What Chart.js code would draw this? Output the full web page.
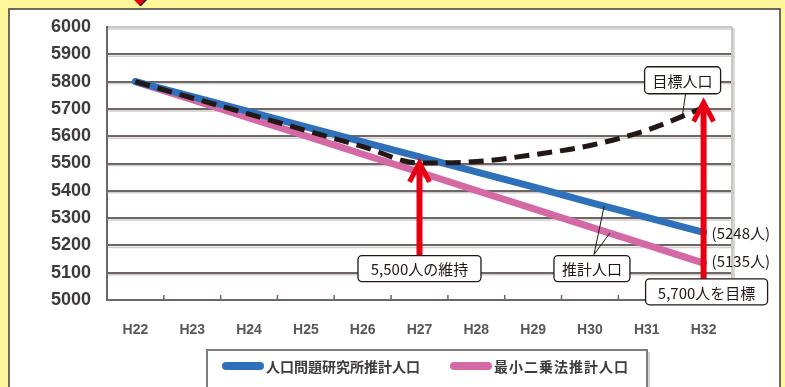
<!DOCTYPE html>
<html>
<head>
<meta charset="utf-8">
<script src="https://cdn.jsdelivr.net/npm/chart.js@4.4.0/dist/chart.umd.min.js"></script>
<style>
html, body { margin: 0; padding: 0; background: #fff799; }
canvas { display: block; }
</style>
</head>
<body>
<canvas id="pop_chart" width="785" height="387"></canvas>
<script>
// data
var years = ['H22', 'H23', 'H24', 'H25', 'H26', 'H27', 'H28', 'H29', 'H30', 'H31', 'H32'];
var ipss_pop = [5800, 5745, 5690, 5634, 5579, 5524, 5469, 5414, 5358, 5303, 5248];
var lsq_pop = [5800, 5734, 5667, 5601, 5534, 5468, 5401, 5335, 5268, 5202, 5135];
var target_pop = [5800, 5740, 5681, 5621, 5562, 5502, 5507, 5532, 5566, 5622, 5705];
var y_ticks = [5000, 5100, 5200, 5300, 5400, 5500, 5600, 5700, 5800, 5900, 6000];
var series_names = ['人口問題研究所推計人口', '最小二乗法推計人口', '目標人口'];
var end_labels = ['(5248人)', '(5135人)'];
var note_keep = '5,500人の維持';
var note_goal = '5,700人を目標';
var note_est = '推計人口';

var blue = 'rgb(46, 112, 185)';
var pink = 'rgb(213, 105, 165)';
var red = 'rgb(230, 0, 18)';
var ink = '#231815';
var jp_font = '"Noto Sans CJK JP", "Noto Sans", sans-serif';

function noteBox(ctx, cx, cy, w, h, text) {
    var x = cx - w / 2, y = cy - h / 2;
    ctx.save();
    ctx.beginPath();
    ctx.roundRect(x, y, w, h, 4);
    ctx.fillStyle = '#fff';
    ctx.fill();
    ctx.lineWidth = 1.3;
    ctx.strokeStyle = ink;
    ctx.stroke();
    ctx.fillStyle = ink;
    ctx.font = '15px ' + jp_font;
    ctx.textAlign = 'center';
    ctx.textBaseline = 'middle';
    ctx.fillText(text, cx, cy + 1);
    ctx.restore();
}

function redArrow(ctx, x, tipY, baseY) {
    ctx.save();
    ctx.strokeStyle = red;
    ctx.lineWidth = 6;
    ctx.lineJoin = 'miter';
    ctx.beginPath();
    ctx.moveTo(x, tipY + 2);
    ctx.lineTo(x, baseY);
    ctx.stroke();
    ctx.lineWidth = 5;
    ctx.beginPath();
    ctx.moveTo(x - 10, tipY + 19);
    ctx.lineTo(x, tipY);
    ctx.lineTo(x + 10, tipY + 19);
    ctx.stroke();
    ctx.restore();
}

var decorPlugin = {
    id: 'decor',
    beforeDraw: function (chart) {
        var ctx = chart.ctx;
        ctx.save();
        ctx.fillStyle = '#fff799';
        ctx.fillRect(0, 0, chart.width, chart.height);
        ctx.fillStyle = '#fff';
        ctx.fillRect(9, 9, 771, 400);
        ctx.strokeStyle = '#3e3a39';
        ctx.lineWidth = 1.5;
        ctx.strokeRect(9, 9, 771, 400);
        // red pointer coming from above
        ctx.beginPath();
        ctx.moveTo(131, -3);
        ctx.lineTo(149, -3);
        ctx.lineTo(140, 6);
        ctx.closePath();
        ctx.fillStyle = red;
        ctx.fill();
        ctx.strokeStyle = ink;
        ctx.lineWidth = 1.5;
        ctx.beginPath();
        ctx.moveTo(140, 6);
        ctx.lineTo(149, -3);
        ctx.stroke();
        ctx.restore();
    },
    beforeDatasetsDraw: function (chart) {
        var ctx = chart.ctx, a = chart.chartArea, ys = chart.scales.y, xs = chart.scales.x;
        ctx.save();
        // grid shadows
        ctx.strokeStyle = 'rgba(150, 145, 142, 0.45)';
        ctx.lineWidth = 1.5;
        y_ticks.forEach(function (v) {
            if (v === 5000) return;
            var py = ys.getPixelForValue(v) + 2;
            ctx.beginPath();
            ctx.moveTo(a.left, py);
            ctx.lineTo(a.right + 2, py);
            ctx.stroke();
        });
        // right edge of plot
        ctx.strokeStyle = '#c9c6c4';
        ctx.lineWidth = 2;
        ctx.beginPath();
        ctx.moveTo(a.right, a.top);
        ctx.lineTo(a.right, a.bottom);
        ctx.stroke();
        ctx.strokeStyle = 'rgba(150, 145, 142, 0.35)';
        ctx.beginPath();
        ctx.moveTo(a.right + 2, a.top + 2);
        ctx.lineTo(a.right + 2, a.bottom);
        ctx.stroke();
        // category tick marks on bottom axis
        var half = (xs.getPixelForValue(1) - xs.getPixelForValue(0)) / 2;
        ctx.strokeStyle = '#6e6663';
        ctx.lineWidth = 1.5;
        for (var i = 0; i < years.length - 1; i++) {
            var px = xs.getPixelForValue(i) + half;
            ctx.beginPath();
            ctx.moveTo(px, a.bottom);
            ctx.lineTo(px, a.bottom - 5);
            ctx.stroke();
        }
        ctx.restore();
    },
    afterDatasetsDraw: function (chart) {
        var ctx = chart.ctx, xs = chart.scales.x, ys = chart.scales.y;
        var last = years.length - 1;
        var x27 = xs.getPixelForValue(5);
        var x32 = xs.getPixelForValue(last);

        // red arrows
        redArrow(ctx, x27, ys.getPixelForValue(target_pop[5]), ys.getPixelForValue(5080));
        redArrow(ctx, x32, ys.getPixelForValue(target_pop[last]) - 5, ys.getPixelForValue(5000) - 10);

        // leader lines
        var step = xs.getPixelForValue(1) - xs.getPixelForValue(0);
        var bx = xs.getPixelForValue(0) + step * 8.25;
        var pxp = xs.getPixelForValue(0) + step * 8.35;
        var by = ys.getPixelForValue(ipss_pop[8] + (ipss_pop[9] - ipss_pop[8]) * 0.25);
        var pyp = ys.getPixelForValue(lsq_pop[8] + (lsq_pop[9] - lsq_pop[8]) * 0.35);
        var estX = xs.getPixelForValue(8) + 2;
        var estY = ys.getPixelForValue(5115);
        ctx.save();
        ctx.strokeStyle = ink;
        ctx.lineWidth = 1;
        ctx.beginPath();
        ctx.moveTo(estX + 2, estY - 14);
        ctx.lineTo(bx, by);
        ctx.moveTo(estX + 2, estY - 14);
        ctx.lineTo(pxp, pyp);
        ctx.moveTo(x32 - 18, ys.getPixelForValue(5760) + 1);
        ctx.lineTo(x32 - 21, ys.getPixelForValue(5680));
        ctx.stroke();
        ctx.restore();

        // note boxes
        noteBox(ctx, x27, estY, 123, 26, note_keep);
        noteBox(ctx, estX, estY, 76, 26, note_est);
        noteBox(ctx, x32 + 3, ys.getPixelForValue(5030), 122, 26, note_goal);
        noteBox(ctx, x32 - 21, ys.getPixelForValue(5805), 76, 27, series_names[2]);

        // end values
        ctx.save();
        ctx.fillStyle = ink;
        ctx.font = '15px ' + jp_font;
        ctx.textBaseline = 'middle';
        ctx.fillText(end_labels[0], x32 + 8, ys.getPixelForValue(ipss_pop[last]) + 1);
        ctx.fillText(end_labels[1], x32 + 8, ys.getPixelForValue(lsq_pop[last]) - 2);
        ctx.restore();

        // legend
        ctx.save();
        ctx.fillStyle = '#fff';
        ctx.strokeStyle = '#7d7d7d';
        ctx.lineWidth = 2;
        ctx.fillRect(207, 350, 440, 50);
        ctx.strokeRect(207, 350, 440, 50);
        ctx.strokeStyle = 'rgba(150,150,150,0.4)';
        ctx.beginPath();
        ctx.moveTo(649, 352);
        ctx.lineTo(649, 400);
        ctx.stroke();
        var items = [[blue, series_names[0], 222, '0px'], [pink, series_names[1], 450, '1px']];
        items.forEach(function (it) {
            ctx.strokeStyle = it[0];
            ctx.lineWidth = 8;
            ctx.lineCap = 'round';
            ctx.beginPath();
            ctx.moveTo(it[2] + 4, 366);
            ctx.lineTo(it[2] + 38, 366);
            ctx.stroke();
            ctx.fillStyle = '#3e3a39';
            ctx.font = 'bold 14px ' + jp_font;
            ctx.letterSpacing = it[3];
            ctx.textBaseline = 'middle';
            ctx.fillText(it[1], it[2] + 44, 367);
        });
        ctx.restore();
    }
};

var pop_chart = new Chart(document.getElementById('pop_chart'), {
    type: 'line',
    data: {
        labels: years,
        datasets: [{
            label: series_names[2],
            data: target_pop,
            borderColor: ink,
            borderWidth: 5,
            borderDash: [15, 8],
            pointRadius: 0,
            cubicInterpolationMode: 'monotone',
            order: 0
        },
        {
            label: series_names[0],
            data: ipss_pop,
            borderColor: blue,
            borderWidth: 7,
            borderCapStyle: 'round',
            pointRadius: 0,
            order: 1
        },
        {
            label: series_names[1],
            data: lsq_pop,
            borderColor: pink,
            borderWidth: 7,
            borderCapStyle: 'round',
            pointRadius: 0,
            order: 2
        }]
    },
    options: {
        responsive: false,
        animation: false,
        devicePixelRatio: 1,
        layout: {
            padding: { left: 0, right: 53, top: 27, bottom: 0 }
        },
        plugins: {
            legend: { display: false },
            tooltip: { enabled: false }
        },
        scales: {
            x: {
                offset: true,
                grid: { display: false },
                border: { display: true, color: '#6e6663', width: 2 },
                ticks: {
                    padding: 14,
                    color: '#595757',
                    font: { family: '"Liberation Sans", Arial, sans-serif', size: 14, weight: 'bold' }
                },
                afterFit: function (s) { s.height = 87; }
            },
            y: {
                min: y_ticks[0],
                max: y_ticks[y_ticks.length - 1],
                grid: {
                    drawTicks: false,
                    lineWidth: 2,
                    color: function (c) { return c.tick && c.tick.value === 6000 ? '#c9c6c4' : '#6e6663'; }
                },
                border: { display: true, color: '#6e6663', width: 2 },
                ticks: {
                    stepSize: 100,
                    padding: 16,
                    color: '#3e3a39',
                    font: { family: '"Liberation Sans", Arial, sans-serif', size: 18, weight: 'bold' },
                    callback: function (v) { return String(v); }
                },
                afterFit: function (s) { s.width = 107; }
            }
        }
    },
    plugins: [decorPlugin]
});
</script>
</body>
</html>
